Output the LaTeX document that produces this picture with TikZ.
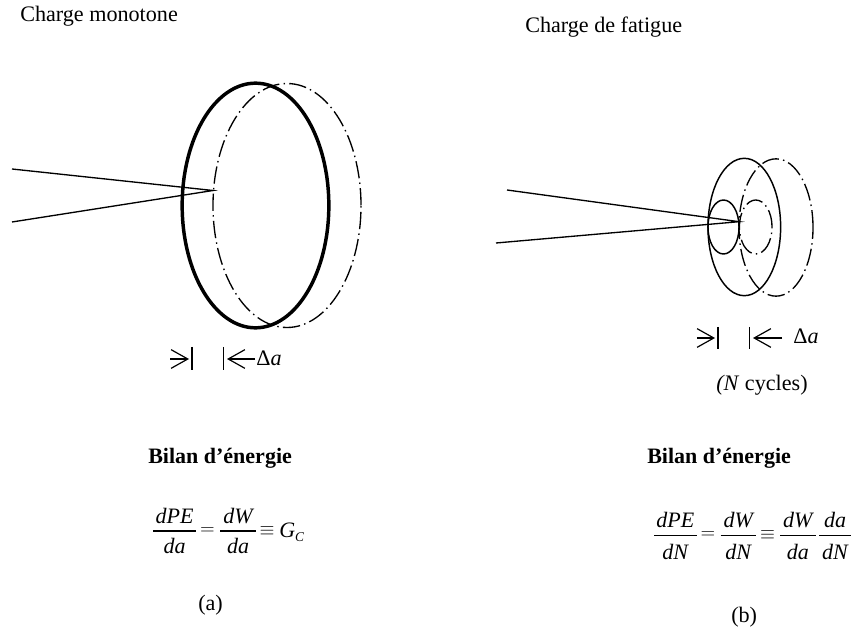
\documentclass[tikz,border=0pt]{standalone}
\usepackage{fontspec}
\setmainfont{Liberation Serif}
\usetikzlibrary{shapes.geometric,arrows.meta}
\tikzset{
  thin line/.style={line width=1pt},
  front/.style={ellipse,draw,inner sep=0pt,outer sep=0pt,line width=1.1pt},
  heavy/.style={front,line width=2.6pt},
  chain/.style={front,line width=1pt,dash pattern=on 13pt off 3.2pt on 1.1pt off 3.2pt},
  dimarrow/.style={line width=0.9pt,-{Straight Barb[length=12.5pt,width=14pt,line width=0.9pt]}},
  dimbar/.style={line width=0.9pt},
  label/.style={anchor=base west,inner sep=0pt,font=\fontsize{16.6}{20}\selectfont},
  head/.style={label,font=\fontsize{16.5}{20}\bfseries\selectfont},
  eqn/.style={anchor=base,inner sep=0pt,font=\fontsize{16.5}{20}\itshape\selectfont},
  op/.style={anchor=center,inner sep=0pt,font=\fontsize{15}{18}\selectfont},
  fracbar/.style={line width=0.8pt}
}
% name, left x, right x, bar y, numerator baseline, denominator baseline, numerator, denominator
\newcommand{\fracat}[8]{%
  \coordinate (#1l) at (#2,#4);
  \coordinate (#1r) at (#3,#4);
  \draw[fracbar] (#1l) -- (#1r);
  \node[eqn] (#1n) at ({(#2+#3)/2},#5) {#7};
  \node[eqn] (#1d) at ({(#2+#3)/2},#6) {#8};
}
\begin{document}
\begin{tikzpicture}[x=0.75pt,y=-0.75pt]
\useasboundingbox (0,0) rectangle (852,630);
% left
\node[label] (t1) at (20,22) {Charge monotone};
\node[chain,minimum width=111pt,minimum height=183pt] (e2) at (287,205.5) {};
\node[heavy,minimum width=110pt,minimum height=183.5pt] (e1) at (255.5,205.5) {};
\coordinate (c1a) at (12,169);
\coordinate (c1b) at (12,222);
\coordinate (tip1) at (213,190.5);
\draw[thin line] (c1a) -- (tip1) -- (c1b);
\coordinate (a1s) at (170,359); \coordinate (a1e) at (189,359);
\coordinate (a2s) at (255,359); \coordinate (a2e) at (227,359);
\coordinate (b1t) at (192,347); \coordinate (b1b) at (192,370);
\coordinate (b2t) at (223.5,347); \coordinate (b2b) at (223.5,370);
\draw[dimarrow] (a1s) -- (a1e);
\draw[dimarrow] (a2s) -- (a2e);
\draw[dimbar] (b1t) -- (b1b);
\draw[dimbar] (b2t) -- (b2b);
\node[label] (d1) at (256,366) {Δ\textit{a}};
\node[head] (h1) at (148,463) {Bilan d’énergie};
\fracat{fa}{153}{196}{531}{523}{553}{dPE}{da}
\node[op] (eqa) at (207.5,531) {$=$};
\fracat{fb}{220}{256}{531}{523}{553}{dW}{da}
\node[op] (eqb) at (267,531) {$\equiv$};
\node[label] (g) at (279,537) {\fontsize{16.5}{20}\selectfont\textit{G}\raisebox{-3pt}{\fontsize{10}{12}\selectfont\textit{C}}};
\node[label] (ca) at (198,610) {(a)};
% right
\node[label] (t2) at (525,33) {Charge de fatigue};
\node[chain,minimum width=55.5pt,minimum height=103pt] (e4) at (776,227.5) {};
\node[chain,minimum width=24.5pt,minimum height=40.5pt] (e6) at (755.7,227) {};
\node[front,minimum width=54.5pt,minimum height=103pt] (e3) at (744.3,227) {};
\node[front,minimum width=23.3pt,minimum height=40.5pt] (e5) at (723.5,227) {};
\coordinate (c2a) at (507,190);
\coordinate (c2b) at (496,243);
\coordinate (tip2) at (739,221.7);
\draw[thin line] (c2a) -- (tip2) -- (c2b);
\coordinate (a3s) at (697,338); \coordinate (a3e) at (715,338);
\coordinate (a4s) at (782,338); \coordinate (a4e) at (753,338);
\coordinate (b3t) at (718,327); \coordinate (b3b) at (718,349);
\coordinate (b4t) at (749.5,327); \coordinate (b4b) at (749.5,349);
\draw[dimarrow] (a3s) -- (a3e);
\draw[dimarrow] (a4s) -- (a4e);
\draw[dimbar] (b3t) -- (b3b);
\draw[dimbar] (b4t) -- (b4b);
\node[label] (d2) at (793,344) {Δ\textit{a}};
\node[label] (nc) at (716,391) {\textit{(N} cycles)};
\node[head] (h2) at (647,463) {Bilan d’énergie};
\fracat{fc}{654}{696.5}{535.5}{527}{559}{dPE}{dN}
\node[op] (eqc) at (708,535.5) {$=$};
\fracat{fd}{720.5}{756}{535.5}{527}{559}{dW}{dN}
\node[op] (eqd) at (767.5,535.5) {$\equiv$};
\fracat{fe}{780}{815.5}{535.5}{527}{559}{dW}{da}
\fracat{ff}{819}{851}{535.5}{527}{559}{da}{dN}
\node[label] (cb) at (731,622) {(b)};
\end{tikzpicture}
\end{document}
